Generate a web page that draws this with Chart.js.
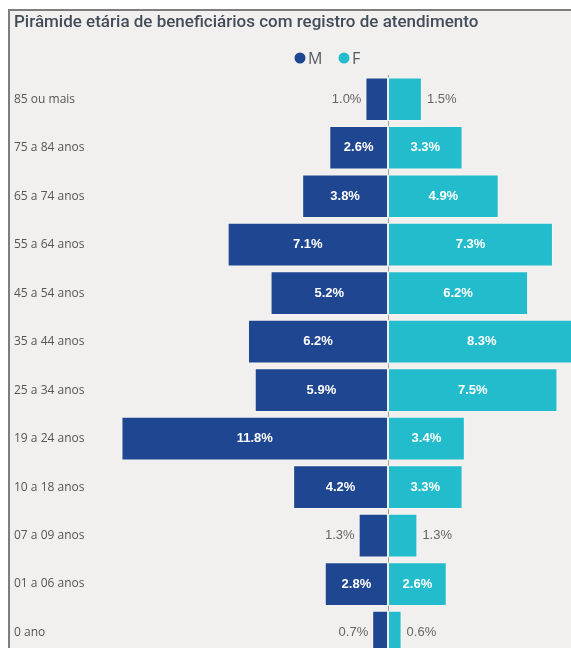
<!DOCTYPE html>
<html>
<head>
<meta charset="utf-8">
<script src="https://cdn.jsdelivr.net/npm/chart.js@4/dist/chart.umd.min.js"></script>
<style>
html,body{margin:0;padding:0;background:#ffffff;overflow:hidden;width:571px;height:648px;}
canvas{display:block;}
</style>
</head>
<body>
<canvas id="c" width="571" height="664"></canvas>
<script>
const TITLE = "Pirâmide etária de beneficiários com registro de atendimento";
const categories = ["85 ou mais","75 a 84 anos","65 a 74 anos","55 a 64 anos","45 a 54 anos","35 a 44 anos","25 a 34 anos","19 a 24 anos","10 a 18 anos","07 a 09 anos","01 a 06 anos","0 ano"];
const seriesNames = ["M","F"];
const valuesM = [1.0,2.6,3.8,7.1,5.2,6.2,5.9,11.8,4.2,1.3,2.8,0.7];
const valuesF = [1.5,3.3,4.9,7.3,6.2,8.3,7.5,3.4,3.3,1.3,2.6,0.6];

const COL_M = "#1f4690";
const COL_F = "#22bccc";
const PANEL = "#f1f0ef";

const framePlugin = {
  id: "frame",
  beforeDraw(chart) {
    const ctx = chart.ctx;
    ctx.save();
    ctx.fillStyle = "#ffffff";
    ctx.fillRect(0, 0, chart.width, chart.height);
    ctx.fillStyle = PANEL;
    ctx.fillRect(9, 10, chart.width - 9, chart.height - 10);
    ctx.fillStyle = "#7d7d7d";
    ctx.fillRect(8, 9, 2, chart.height - 9);
    ctx.fillRect(8, 9, chart.width - 8, 2);
    // title
    ctx.fillStyle = "#434d59";
    ctx.font = "500 17px Roboto, 'Open Sans', sans-serif";
    ctx.textBaseline = "middle";
    ctx.textAlign = "left";
    ctx.fillText(TITLE, 14, 23);
    // legend
    const ds = chart.data.datasets;
    let lx = 300;
    ctx.font = "16px 'Open Sans', sans-serif";
    ds.forEach((d, i) => {
      ctx.fillStyle = d.backgroundColor;
      ctx.beginPath();
      ctx.arc(lx, 58, 5.5, 0, Math.PI * 2);
      ctx.fill();
      ctx.fillStyle = "#555a60";
      ctx.fillText(d.label, lx + 8, 59);
      lx += 44;
    });
    ctx.restore();
  },
  beforeDatasetsDraw(chart) {
    const ctx = chart.ctx;
    const x0 = Math.round(chart.scales.x.getPixelForValue(0)) + 0.5;
    ctx.save();
    ctx.strokeStyle = "#a0a0a0";
    ctx.lineWidth = 1;
    ctx.beginPath();
    ctx.moveTo(x0, chart.chartArea.top);
    ctx.lineTo(x0, chart.chartArea.bottom);
    ctx.stroke();
    ctx.restore();
  },
  afterDatasetsDraw(chart) {
    const ctx = chart.ctx;
    ctx.save();
    ctx.textBaseline = "middle";
    chart.data.datasets.forEach((d, di) => {
      const meta = chart.getDatasetMeta(di);
      meta.data.forEach((bar, i) => {
        const v = Math.abs(d.data[i]);
        const txt = v.toFixed(1) + "%";
        const left = Math.min(bar.x, bar.base);
        const right = Math.max(bar.x, bar.base);
        if (v >= 2) {
          ctx.fillStyle = "#ffffff";
          ctx.font = "bold 13px 'Liberation Sans', Arial, sans-serif";
          ctx.textAlign = "center";
          ctx.fillText(txt, (left + right) / 2, bar.y);
        } else {
          ctx.fillStyle = "#666666";
          ctx.font = "13px 'Liberation Sans', Arial, sans-serif";
          if (d.data[i] < 0) {
            ctx.textAlign = "right";
            ctx.fillText(txt, left - 4, bar.y);
          } else {
            ctx.textAlign = "left";
            ctx.fillText(txt, right + 5, bar.y);
          }
        }
      });
    });
    ctx.restore();
  }
};

new Chart(document.getElementById("c"), {
  type: "bar",
  data: {
    labels: categories,
    datasets: [
      { label: seriesNames[0], data: valuesM.map(v => -v), backgroundColor: COL_M, borderColor: "#f4f4f4", borderWidth: 1, borderSkipped: false },
      { label: seriesNames[1], data: valuesF, backgroundColor: COL_F, borderColor: "#f4f4f4", borderWidth: 1, borderSkipped: false }
    ]
  },
  options: {
    indexAxis: "y",
    responsive: false,
    animation: false,
    devicePixelRatio: 1,
    categoryPercentage: 1,
    barPercentage: 0.9,
    layout: { padding: { top: 75, left: 14, right: 0, bottom: 1 } },
    plugins: { legend: { display: false }, title: { display: false }, tooltip: { enabled: false } },
    scales: {
      x: { stacked: true, display: false, min: -12.75, max: 8.1 },
      y: {
        stacked: true,
        grid: { display: false },
        border: { display: false },
        ticks: { crossAlign: "far", color: "#555555", font: { family: "'Open Sans', sans-serif", size: 12 }, padding: 0 },
        afterFit(scale) { scale.width = 86; }
      }
    }
  },
  plugins: [framePlugin]
});
</script>
</body>
</html>
